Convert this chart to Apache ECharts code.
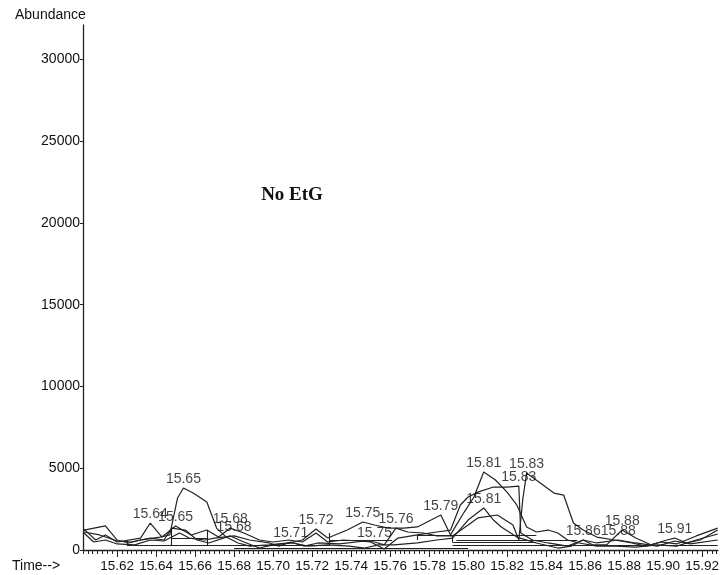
<!DOCTYPE html>
<html>
<head>
<meta charset="utf-8">
<script src="https://cdn.jsdelivr.net/npm/echarts@6/dist/echarts.min.js"></script>
<style>
  html, body { margin: 0; padding: 0; background: #fff; }
  #chart { width: 722px; height: 575px; }
</style>
</head>
<body>
<div id="chart"></div>
<script>
// Extracted ion chromatograms: retention time (min) and abundance for each trace
const t1 = [15.603,15.614,15.620,15.626,15.632,15.642,15.647,15.651,15.654,15.659,15.666,15.671,15.676,15.682,15.688,15.698,15.708,15.715,15.722,15.728,15.738,15.746,15.752,15.759,15.767,15.774,15.786,15.791,15.793,15.798,15.803,15.808,15.814,15.820,15.825,15.830,15.835,15.841,15.846,15.851,15.857,15.866,15.876,15.886,15.897,15.907,15.917,15.928];
const a1 = [1220,1470,610,430,610,790,920,3180,3790,3480,2930,1340,790,430,240,310,430,610,1280,730,1220,1710,1530,1340,1340,1410,2140,920,1340,2320,3240,4770,4280,3540,2750,1410,1100,1220,1040,610,430,240,240,180,310,240,610,980];

const t2 = [15.603,15.609,15.614,15.620,15.632,15.637,15.643,15.650,15.658,15.666,15.672,15.678,15.685,15.693,15.700,15.708,15.715,15.722,15.728,15.736,15.744,15.750,15.757,15.764,15.774,15.784,15.791,15.796,15.800,15.805,15.813,15.820,15.826,15.827,15.833,15.841,15.851,15.859,15.864,15.871,15.879,15.886,15.894,15.902,15.906,15.912,15.919,15.928];
const a2 = [1280,610,920,490,730,1650,790,1470,920,1220,790,1340,1040,610,490,610,490,1040,490,610,550,490,60,730,920,1100,1220,2750,3240,3540,3850,3850,3910,1040,610,430,240,610,310,310,1220,730,310,610,730,430,610,1220];

const t3 = [15.603,15.608,15.614,15.620,15.629,15.637,15.644,15.652,15.657,15.665,15.670,15.680,15.688,15.698,15.703,15.709,15.716,15.723,15.734,15.747,15.752,15.757,15.763,15.769,15.777,15.784,15.792,15.800,15.805,15.815,15.823,15.826,15.828,15.830,15.837,15.844,15.849,15.854,15.859,15.866,15.875,15.884,15.891,15.899,15.907,15.917,15.928];
const a3 = [1040,490,610,370,310,610,550,1040,730,610,730,860,610,430,240,490,240,430,370,550,490,310,1340,1100,1040,860,860,1530,1960,2140,1530,610,3060,4710,4100,3480,3360,1650,1220,790,610,430,240,490,370,860,1340];

const t4 = [15.603,15.611,15.620,15.627,15.637,15.644,15.648,15.655,15.661,15.667,15.678,15.685,15.693,15.700,15.710,15.718,15.728,15.739,15.747,15.754,15.762,15.774,15.784,15.792,15.800,15.808,15.813,15.817,15.825,15.835,15.846,15.853,15.859,15.866,15.877,15.886,15.897,15.906,15.914,15.928];
const a4 = [1100,920,550,490,730,610,1340,1220,610,430,860,490,120,310,430,240,310,240,120,310,310,430,610,730,1830,2570,1830,1410,790,430,120,240,610,430,610,430,240,550,370,610];

// Labelled peak apexes: which trace, and the apex retention time
const peakTrace = [0,1,1,1,2,2,0,0,2,2,0,0,3,2,1,3,1,3,1];
const peakTime  = [15.654,15.637,15.650,15.678,15.680,15.709,15.722,15.746,15.752,15.763,15.786,15.808,15.808,15.830,15.826,15.859,15.879,15.877,15.906];

// Integration baselines: horizontal runs (from, to, level) and vertical drops (time, low, high)
const baseFrom  = [15.625,15.648,15.680,15.729,15.774,15.792,15.794,15.792,15.830];
const baseTo    = [15.729,15.666,15.800,15.761,15.835,15.835,15.851,15.928,15.856];
const baseLevel = [310,730,120,610,920,490,610,310,610];
const dropTime  = [15.625,15.648,15.666,15.729,15.792,15.774];
const dropLow   = [310,310,310,310,490,610];
const dropHigh  = [610,1410,1220,1040,920,920];

// Axis ranges and tick labels
const xMin = 15.6025, xMax = 15.9281;
const yMin = 0, yMax = 32100;
const xLabels = [15.62,15.64,15.66,15.68,15.70,15.72,15.74,15.76,15.78,15.80,15.82,15.84,15.86,15.88,15.90,15.92];
const yLabels = [0,5000,10000,15000,20000,25000,30000];

const minorTicks = [];
for (let k = 0; xMin + k * 0.0025 <= xMax + 1e-9; k++) {
  minorTicks.push(Math.round((xMin + k * 0.0025) * 10000) / 10000);
}

const traces = [[t1, a1], [t2, a2], [t3, a3], [t4, a4]];
const ink = '#222';
const textInk = '#111';
const font = '"Liberation Sans", Arial, sans-serif';

const traceSeries = traces.map(([t, a]) => ({
  type: 'line',
  data: t.map((x, i) => [x, a[i]]),
  symbol: 'none',
  silent: true,
  lineStyle: { color: ink, width: 1.2 },
  z: 3
}));

const peakData = peakTrace.map((s, i) => {
  const [t, a] = traces[s];
  const idx = t.indexOf(peakTime[i]);
  return { value: [peakTime[i], a[idx]], name: peakTime[i].toFixed(2) };
});

const baseLines = [];
baseFrom.forEach((f, i) => baseLines.push({ coords: [[f, baseLevel[i]], [baseTo[i], baseLevel[i]]] }));
dropTime.forEach((d, i) => baseLines.push({ coords: [[d, dropLow[i]], [d, dropHigh[i]]] }));

const chart = echarts.init(document.getElementById('chart'), null, { renderer: 'canvas' });
chart.setOption({
  animation: false,
  backgroundColor: '#fff',
  grid: { left: 83, right: 0, top: 25, bottom: 25, containLabel: false },
  xAxis: [
    {
      type: 'value', min: xMin, max: xMax, position: 'bottom',
      axisLine: { show: true, lineStyle: { color: ink, width: 1.3 } },
      axisTick: { show: true, customValues: minorTicks, length: 4, lineStyle: { color: ink, width: 1 } },
      axisLabel: { show: false },
      splitLine: { show: false }
    },
    {
      type: 'value', min: xMin, max: xMax, position: 'bottom',
      axisLine: { show: false },
      axisTick: { show: true, customValues: xLabels, length: 7, lineStyle: { color: ink, width: 1 } },
      axisLabel: {
        show: true, customValues: xLabels, margin: 9,
        formatter: v => v.toFixed(2),
        fontSize: 13.5, fontFamily: font, color: textInk
      },
      splitLine: { show: false }
    }
  ],
  yAxis: {
    type: 'value', min: yMin, max: yMax,
    axisLine: { show: true, lineStyle: { color: ink, width: 1.3 } },
    axisTick: { show: true, customValues: yLabels, length: 3, lineStyle: { color: ink } },
    axisLabel: {
      show: true, customValues: yLabels, margin: 3,
      formatter: v => String(v),
      fontSize: 14, fontFamily: font, color: textInk
    },
    splitLine: { show: false }
  },
  series: [
    ...traceSeries,
    {
      type: 'lines',
      coordinateSystem: 'cartesian2d',
      silent: true,
      data: baseLines,
      lineStyle: { color: ink, width: 1.1, opacity: 1 },
      z: 2
    },
    {
      type: 'scatter',
      data: peakData,
      symbolSize: 0,
      silent: true,
      label: {
        show: true, position: 'top', distance: 2,
        formatter: p => p.name,
        fontSize: 14, fontFamily: font, color: textInk
      },
      z: 4
    }
  ],
  graphic: [
    { type: 'text', left: 15, top: 8, style: { text: 'Abundance', font: '14px ' + font, fill: textInk } },
    { type: 'text', left: 12, top: 559, style: { text: 'Time-->', font: '14px ' + font, fill: textInk } },
    { type: 'text', x: 292, y: 195, style: { text: 'No EtG', font: 'bold 19px "Liberation Serif", "Times New Roman", serif', fill: '#111', align: 'center', verticalAlign: 'middle' } }
  ]
});
</script>
</body>
</html>
